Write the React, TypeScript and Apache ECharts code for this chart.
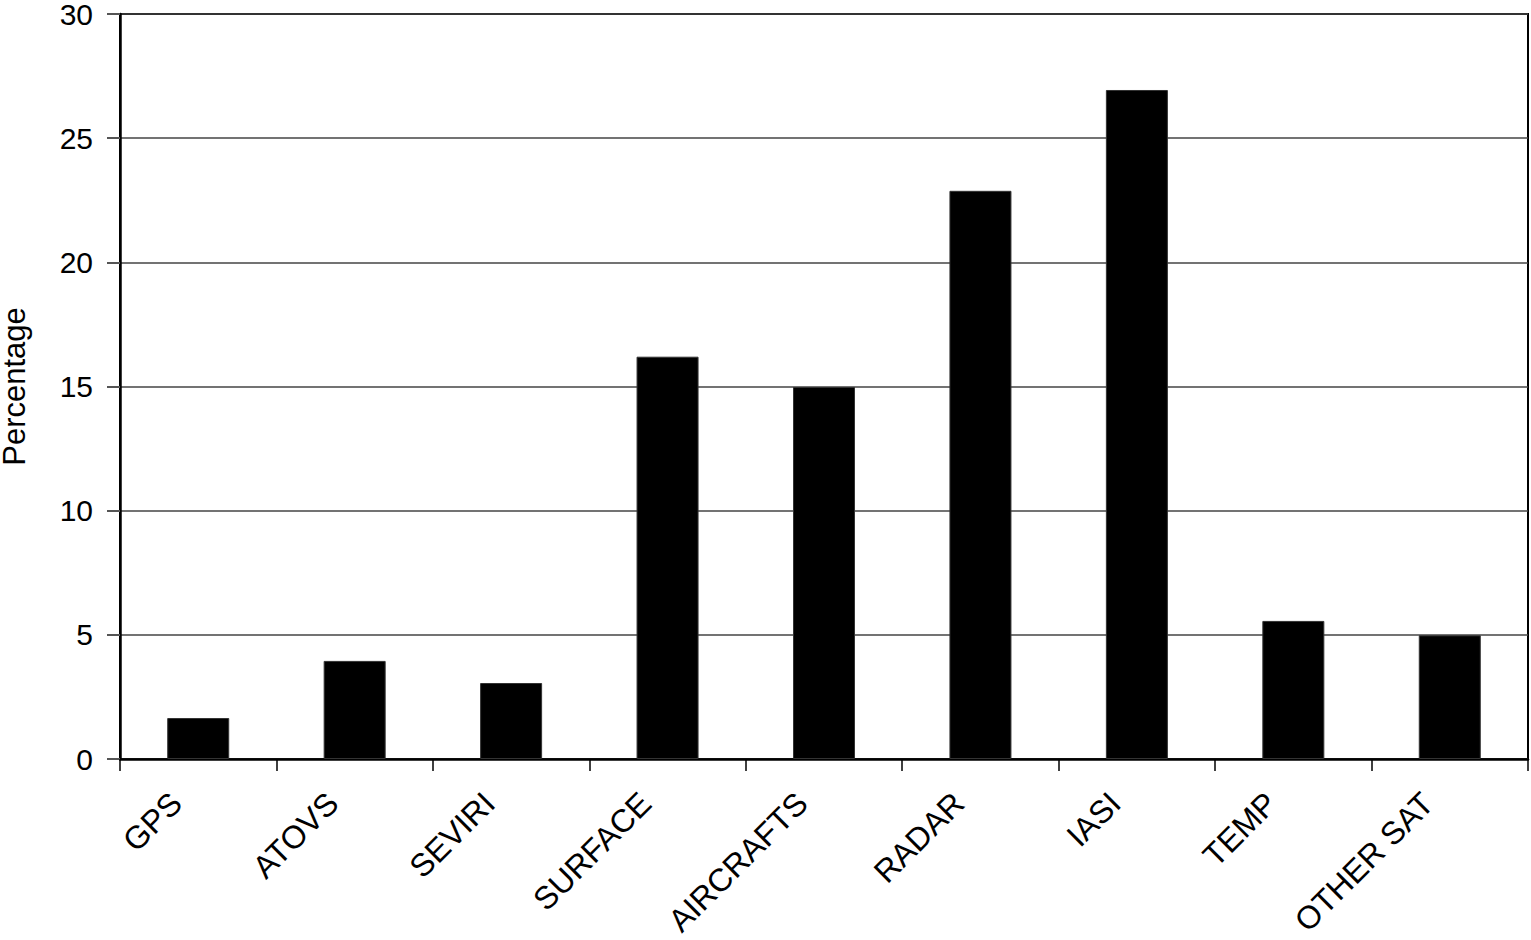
import React, { useEffect, useRef } from "react";
import * as echarts from "echarts";

const categories = ["GPS", "ATOVS", "SEVIRI", "SURFACE", "AIRCRAFTS", "RADAR", "IASI", "TEMP", "OTHER SAT"];
const values = [1.65, 3.95, 3.06, 16.2, 14.98, 22.88, 26.94, 5.56, 4.98];
const yTicks = [0, 5, 10, 15, 20, 25, 30];

export default function App() {
  const ref = useRef<HTMLDivElement>(null);
  useEffect(() => {
    if (!ref.current) return;
    const chart = echarts.init(ref.current, null, { renderer: "svg" });
    const font = "'Liberation Sans', Arial, Helvetica, sans-serif";
    chart.setOption({
      animation: false,
      backgroundColor: "#ffffff",
      grid: {
        left: 120,
        right: 3,
        top: 14,
        bottom: 181,
        show: true,
        borderColor: "#000",
        borderWidth: 2,
        containLabel: false,
        outerBoundsMode: "none",
      },
      xAxis: {
        type: "category",
        data: categories,
        axisLine: { lineStyle: { color: "#000", width: 2.5 } },
        axisTick: { show: true, length: 12, lineStyle: { color: "#000", width: 1.5 } },
        axisLabel: {
          rotate: 45,
          interval: 0,
          margin: 17,
          padding: [0, 31, 0, 0],
          fontSize: 32,
          color: "#000",
          fontFamily: font,
        },
      },
      yAxis: {
        type: "value",
        min: yTicks[0],
        max: yTicks[yTicks.length - 1],
        interval: 5,
        name: "Percentage",
        nameLocation: "middle",
        nameGap: 96,
        nameTextStyle: { fontSize: 31, lineHeight: 20, color: "#000", fontFamily: font },
        axisLine: { show: true, lineStyle: { color: "#000", width: 2.5 } },
        axisTick: { show: true, length: 13, lineStyle: { color: "#555", width: 2 } },
        axisLabel: { fontSize: 30, lineHeight: 20, color: "#000", margin: 27, fontFamily: font },
        splitLine: { show: true, lineStyle: { color: "#444", width: 1.5 } },
      },
      series: [
        {
          type: "bar",
          data: values,
          barWidth: 62,
          itemStyle: { color: "#000", borderColor: "#333", borderWidth: 1 },
        },
      ],
    });
    return () => chart.dispose();
  }, []);
  return (
    <div
      ref={ref}
      style={{ position: "fixed", left: 0, top: 0, width: 1531, height: 940, background: "#fff" }}
    />
  );
}
